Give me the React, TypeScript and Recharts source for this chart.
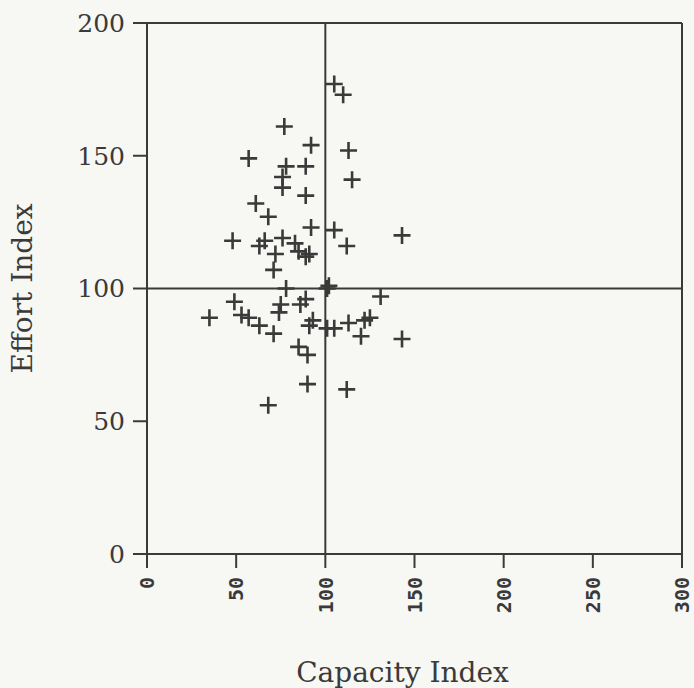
import {
  ScatterChart,
  Scatter,
  XAxis,
  YAxis,
  ReferenceLine,
  Label,
} from "recharts";

// values
const capacity = [
  105, 110, 77, 92, 113, 57, 78, 89, 76, 115, 76, 89, 61, 68, 92, 105, 143, 48,
  66, 63, 76, 112, 83, 72, 85, 89, 91, 71, 78, 101, 102, 49, 75, 89, 86, 131,
  35, 53, 57, 74, 63, 71, 93, 91, 101, 105, 113, 120, 122, 125, 143, 85, 90, 90,
  112, 68,
];
const effort = [
  177, 173, 161, 154, 152, 149, 146, 146, 142, 141, 138, 135, 132, 127, 123,
  122, 120, 118, 118, 116, 119, 116, 117, 113, 114, 112, 113, 107, 100, 100,
  101, 95, 94, 96, 94, 97, 89, 90, 89, 91, 86, 83, 88, 86, 85, 85, 87, 82, 88,
  89, 81, 78, 75, 64, 62, 56,
];
const xTicks = [0, 50, 100, 150, 200, 250, 300];
const yTicks = [0, 50, 100, 150, 200];

const points = capacity.map((c, i) => ({ capacity: c, effort: effort[i] }));

const ink = "#3a3a3a";

const Cross = (props: any) => {
  const { cx, cy } = props;
  const r = 8.5;
  return (
    <path
      d={`M${cx - r},${cy}H${cx + r}M${cx},${cy - r}V${cy + r}`}
      stroke={ink}
      strokeWidth={2.6}
      fill="none"
    />
  );
};

const XTick = (props: any) => {
  const { x, y, payload } = props;
  return (
    <text
      transform={`translate(${x},${y + 9}) rotate(-90)`}
      textAnchor="end"
      dy="0.36em"
      fontFamily="DejaVu Sans Mono"
      fontWeight="bold"
      fontSize={20}
      fill={ink}
    >
      {payload.value}
    </text>
  );
};

export default function App() {
  return (
    <div
      style={{
        position: "absolute",
        top: 0,
        left: 0,
        width: 694,
        height: 688,
        background: "#f7f7f3",
      }}
    >
      <ScatterChart
        width={694}
        height={688}
        margin={{ top: 23, right: 12, left: 0, bottom: 0 }}
      >
        <XAxis
          type="number"
          dataKey="capacity"
          domain={[0, 300]}
          ticks={xTicks}
          height={134}
          tickSize={14}
          tickMargin={0}
          tick={<XTick />}
          stroke={ink}
          strokeWidth={2}
          interval={0}
        >
          <Label
            value="Capacity Index"
            position="insideBottom"
            offset={6}
            dx={-12}
            fontFamily="DejaVu Serif"
            fontSize={28}
            fill={ink}
          />
        </XAxis>
        <YAxis
          type="number"
          dataKey="effort"
          domain={[0, 200]}
          ticks={yTicks}
          width={147}
          tickSize={14}
          tickMargin={8}
          stroke={ink}
          strokeWidth={2}
          interval={0}
          tick={{ fontFamily: "DejaVu Serif", fontSize: 25, fill: ink }}
        >
          <Label
            value="Effort Index"
            angle={-90}
            position="insideLeft"
            offset={22}
            fontFamily="DejaVu Serif"
            fontSize={28}
            fill={ink}
            style={{ textAnchor: "middle" }}
          />
        </YAxis>
        <ReferenceLine y={200} stroke={ink} strokeWidth={2} />
        <ReferenceLine x={300} stroke={ink} strokeWidth={2} />
        <ReferenceLine x={100} stroke={ink} strokeWidth={2} />
        <ReferenceLine y={100} stroke={ink} strokeWidth={2} />
        <Scatter data={points} shape={<Cross />} isAnimationActive={false} />
      </ScatterChart>
    </div>
  );
}
